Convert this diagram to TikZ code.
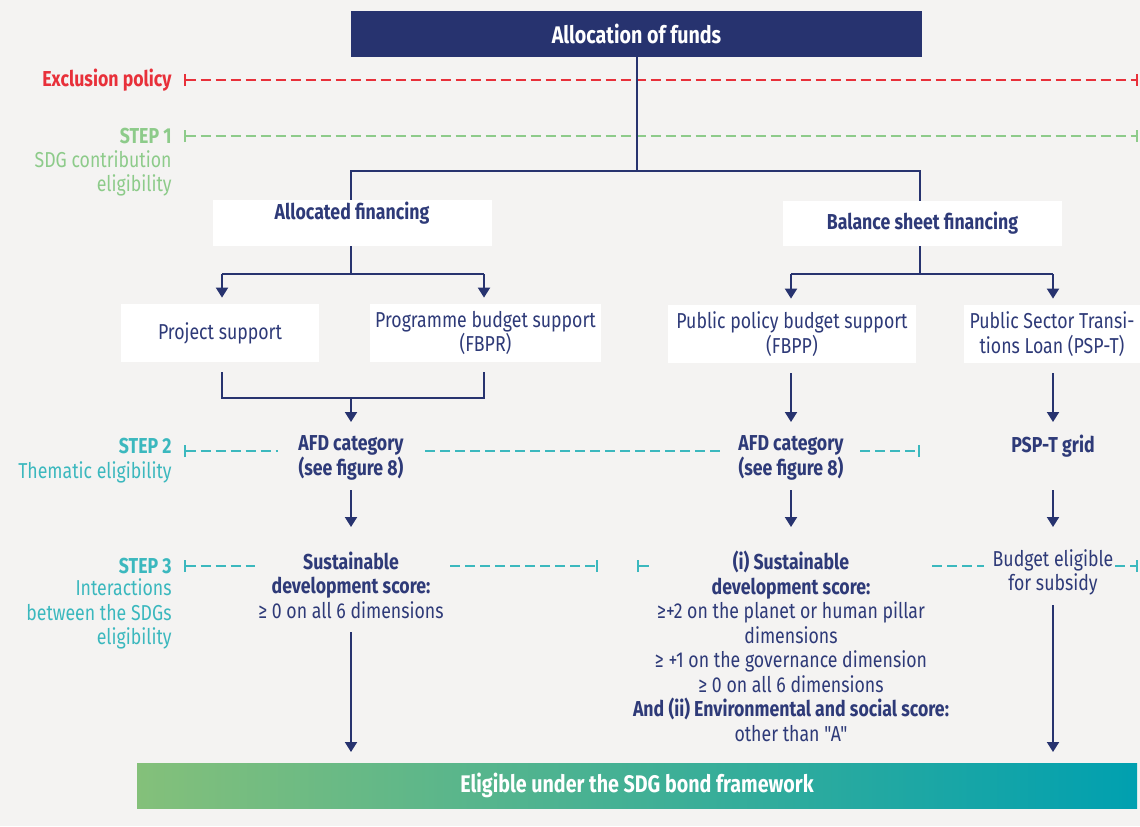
\documentclass[tikz,border=0pt]{standalone}
\usepackage{fontspec}
\setmainfont[FakeStretch=0.82]{Fira Sans}
\usetikzlibrary{arrows.meta}
\definecolor{navy}{HTML}{27336F}
\definecolor{txtnavy}{HTML}{2E3A78}
\definecolor{bgc}{HTML}{F4F3F2}
\definecolor{exred}{HTML}{E8303A}
\definecolor{sgreen}{HTML}{8DCB8A}
\definecolor{steal}{HTML}{3BB8BE}
\definecolor{gleft}{HTML}{84C07A}
\definecolor{gright}{HTML}{00A0B0}
\newcommand{\bodyfont}{\fontsize{10.8}{12.25}\selectfont}
\newcommand{\headfont}{\fontsize{12}{14}\selectfont\bfseries}
\begin{document}
\begin{tikzpicture}[x=0.5pt,y=-0.5pt,
  every node/.style={font=\bodyfont, text=txtnavy, align=center, inner sep=0pt},
  bold/.style={font=\bodyfont\bfseries},
  wbox/.style={fill=white, draw=none, minimum height=29pt},
  conn/.style={draw=navy, line width=1pt},
  arr/.style={conn, -{Triangle[width=6pt,length=5pt]}},
  dsh/.style={line width=1pt, dash pattern=on 5pt off 2.5pt},
  lbl/.style={anchor=east, align=right},
  lblb/.style={anchor=east, align=right, font=\bodyfont\bfseries}]
\fill[bgc] (0,0) rectangle (1140,826);
\useasboundingbox (0,0) rectangle (1140,826);

% dashed guide lines
\draw[dsh, exred, {Bar[width=6pt]}-{Bar[width=6pt]}] (184,80) -- (1138,80);
\draw[dsh, sgreen, {Bar[width=6pt]}-{Bar[width=6pt]}] (184,136) -- (1138,136);
\draw[dsh, steal, {Bar[width=6pt]}-] (184,451) -- (278,451);
\draw[dsh, steal] (425,451) -- (722,451);
\draw[dsh, steal, -{Bar[width=6pt]}] (860,451) -- (920,451);
\draw[dsh, steal, {Bar[width=6pt]}-] (184,566) -- (255,566);
\draw[dsh, steal, -{Bar[width=6pt]}] (450,566) -- (598,566);
\draw[dsh, steal, {Bar[width=6pt]}-] (637,566) -- (653,566);
\draw[dsh, steal] (932,566) -- (984,566);
\draw[dsh, steal, -{Bar[width=6pt]}] (1115,566) -- (1138,566);

% left labels
\node[lblb, text=exred] (lex) at (172,80) {Exclusion policy};
\node[lblb, text=sgreen] (ls1) at (172,136) {STEP 1};
\node[lbl, text=sgreen] (ls1d) at (172,173.5) {SDG contribution\\eligibility};
\node[lblb, text=steal] (ls2) at (172,446) {STEP 2};
\node[lbl, text=steal] (ls2d) at (172,472) {Thematic eligibility};
\node[lblb, text=steal] (ls3) at (172,566) {STEP 3};
\node[lbl, text=steal] (ls3d) at (172,614) {Interactions\\between the SDGs\\eligibility};

% boxes
\node[fill=navy, minimum width=285.5pt, minimum height=23pt, text=white, font=\headfont] (alloc) at (636.5,34) {Allocation of funds};
\node[wbox, minimum width=139.5pt, minimum height=23pt] (af) at (352.5,223) {};
\node[bold] (aft) at (352,213) {Allocated financing};
\node[wbox, bold, minimum width=139.5pt, minimum height=22.5pt] (bs) at (922.5,223.5) {Balance sheet financing};
\node[wbox, minimum width=99pt] (ps) at (220,333) {Project support};
\node[wbox, minimum width=115.5pt] (pbs) at (485.5,333) {Programme budget support\\(FBPR)};
\node[wbox, minimum width=124pt] (ppbs) at (792,334) {Public policy budget support\\(FBPP)};
\node[wbox, minimum width=88pt] (pspt) at (1052,334) {Public Sector Transi-\\tions Loan (PSP-T)};

% step texts
\node[bold] (afd1) at (351,458) {AFD category\\(see figure 8)};
\node[bold] (afd2) at (791,458) {AFD category\\(see figure 8)};
\node[bold] (grid) at (1053,446) {PSP-T grid};
\node (sds1) at (351,585) {\bfseries Sustainable\\\bfseries development score:\\≥ 0 on all 6 dimensions};
\node (sds2) at (791,646.5) {\bfseries (i) Sustainable\\\bfseries development score:\\≥+2 on the planet or human pillar\\dimensions\\≥ +1 on the governance dimension\\≥ 0 on all 6 dimensions\\\bfseries And (ii) Environmental and social score:\\other than {\addfontfeatures{Ligatures=TeXOff}"A"}};
\node (bud) at (1053,572.5) {Budget eligible\\for subsidy};

\node[left color=gleft, right color=gright, minimum width=500pt, minimum height=22.5pt, text=white, font=\headfont] (elig) at (637,785.5) {Eligible under the SDG bond framework};

% connectors
\coordinate (j0) at (636.5,171);
\coordinate (jL) at (351,171);
\coordinate (jR) at (920,171);
\draw[conn] (alloc.south) -- (j0);
\draw[conn] (jL |- af.north) -- (jL) -- (jR) -- (jR |- bs.north);

\coordinate (a1) at (351,274);
\coordinate (a1l) at (222,274);
\coordinate (a1r) at (484,274);
\draw[conn] (a1 |- af.south) -- (a1);
\draw[conn] (a1l) -- (a1r);
\draw[arr] (a1l) -- ([yshift=3pt]a1l |- ps.north);
\draw[arr] (a1r) -- ([yshift=3pt]a1r |- pbs.north);

\coordinate (b1) at (920,274);
\coordinate (b1l) at (791,274);
\coordinate (b1r) at (1053,274);
\draw[conn] (b1 |- bs.south) -- (b1);
\draw[conn] (b1l) -- (b1r);
\draw[arr] (b1l) -- ([yshift=3pt]b1l |- ppbs.north);
\draw[arr] (b1r) -- ([yshift=3pt]b1r |- pspt.north);

\coordinate (c1) at (351,398);
\coordinate (c1l) at (222,398);
\coordinate (c1r) at (484,398);
\draw[conn] ([yshift=-5pt]c1l |- ps.south) -- (c1l) -- (c1r) -- ([yshift=-5pt]c1r |- pbs.south);
\coordinate (d1) at (351,422);
\draw[arr] (c1) -- (d1);
\coordinate (s2) at (791,373);
\coordinate (d2) at (791,422);
\draw[arr] (s2) -- (d2);
\coordinate (s3) at (1053,373);
\coordinate (d3) at (1053,422);
\draw[arr] (s3) -- (d3);

\coordinate (e1a) at (351,490); \coordinate (e1b) at (351,527);
\coordinate (e2a) at (791,490); \coordinate (e2b) at (791,527);
\coordinate (e3a) at (1053,490); \coordinate (e3b) at (1053,527);
\draw[arr] (e1a) -- (e1b);
\draw[arr] (e2a) -- (e2b);
\draw[arr] (e3a) -- (e3b);

\coordinate (f1a) at (351,632); \coordinate (f1b) at (351,752);
\coordinate (f3a) at (1053,605); \coordinate (f3b) at (1053,752);
\draw[arr] (f1a) -- (f1b);
\draw[arr] (f3a) -- (f3b);
\end{tikzpicture}
\end{document}
